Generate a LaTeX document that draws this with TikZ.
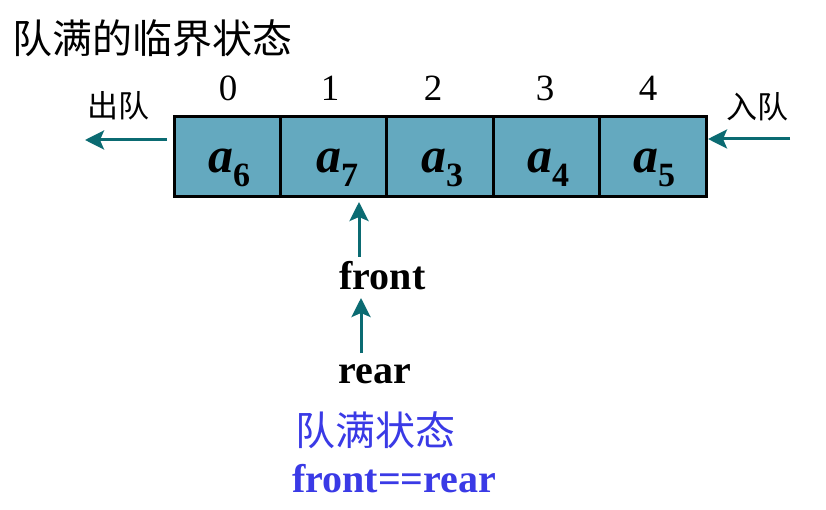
\documentclass[tikz,border=0pt]{standalone}
\usepackage{fontspec}
\setmainfont{Liberation Serif}
\newfontfamily\cjk{Noto Sans CJK SC}
\usetikzlibrary{arrows.meta}
\definecolor{cellfill}{HTML}{64A9BF}
\definecolor{arrteal}{HTML}{0B6B72}
\definecolor{txtblue}{HTML}{3A3AE6}
\tikzset{
  cell/.style={draw=black, line width=3pt, fill=cellfill, minimum width=106.4pt, minimum height=80pt, inner sep=0pt, outer sep=0pt},
  idx/.style={font=\fontsize{37}{37}\selectfont, inner sep=0pt},
  lbl/.style={font=\fontsize{31}{31}\selectfont\cjk, inner sep=0pt},
  arr/.style={draw=arrteal, line width=3pt, -{Stealth[length=19pt, width=19pt, inset=4pt]}},
  ptr/.style={font=\fontsize{40}{40}\selectfont\bfseries, inner sep=0pt, anchor=base},
}
\newcommand{\elem}[1]{{\fontsize{50}{50}\selectfont\bfseries\itshape a}\raisebox{-14pt}{\fontsize{34}{34}\selectfont\bfseries #1}}
\begin{document}
\begin{tikzpicture}[x=1pt, y=-1pt]
\useasboundingbox (0,0) rectangle (826,510);
\fill[white] (0,0) rectangle (826,510);
% title
\node[anchor=west, inner sep=0pt, font=\fontsize{40}{40}\selectfont\cjk] (title) at (12,38) {队满的临界状态};
% cells
\node[cell] (c0) at (227.2,157) {};
\node[cell] (c1) at (333.6,157) {};
\node[cell] (c2) at (440.0,157) {};
\node[cell] (c3) at (546.4,157) {};
\node[cell] (c4) at (652.8,157) {};
\node[anchor=base, inner sep=0pt] (e0) at (229,173) {\elem{6}};
\node[anchor=base, inner sep=0pt] (e1) at (337,173) {\elem{7}};
\node[anchor=base, inner sep=0pt] (e2) at (442,173) {\elem{3}};
\node[anchor=base, inner sep=0pt] (e3) at (548,173) {\elem{4}};
\node[anchor=base, inner sep=0pt] (e4) at (654,173) {\elem{5}};
% indices
\node[idx] (i0) at (228,88) {0};
\node[idx] (i1) at (330,88) {1};
\node[idx] (i2) at (433,88) {2};
\node[idx] (i3) at (545,88) {3};
\node[idx] (i4) at (648,88) {4};
% dequeue / enqueue
\node[lbl] (out) at (118,106) {出队};
\node[lbl] (in) at (757,107) {入队};
\coordinate (outS) at (167,140);
\coordinate (outE) at (85,140);
\coordinate (inS) at (790,139);
\coordinate (inE) at (708,139);
\draw[arr] (outS) -- (outE);
\draw[arr] (inS) -- (inE);
% pointers
\node[ptr] (front) at (382.5,290) {front};
\node[ptr] (rear) at (374.5,383) {rear};
\coordinate (fa) at (359,257);
\coordinate (ra) at (361,353);
\draw[arr] (fa) -- (fa |- 0,202);
\draw[arr] (ra) -- (ra |- 0,298);
% status
\node[inner sep=0pt, font=\fontsize{40}{40}\selectfont\cjk, text=txtblue] (st) at (375,430) {队满状态};
\node[anchor=base west, inner sep=0pt, font=\fontsize{40}{40}\selectfont\bfseries, text=txtblue] (eq) at (292,492) {front==rear};
\end{tikzpicture}
\end{document}
